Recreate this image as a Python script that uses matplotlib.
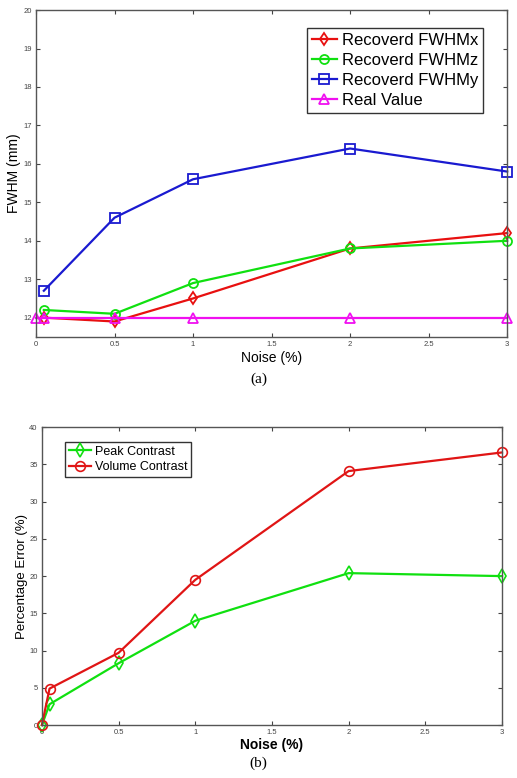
import matplotlib
matplotlib.use("Agg")
import matplotlib.pyplot as plt

plt.rcParams['font.family'] = ['Liberation Sans', 'DejaVu Sans']

# (a) FWHM vs noise
noise = [0.05, 0.5, 1, 2, 3]
fwhm_x = [12.0, 11.9, 12.5, 13.8, 14.2]
fwhm_z = [12.2, 12.1, 12.9, 13.8, 14.0]
fwhm_y = [12.7, 14.6, 15.6, 16.4, 15.8]
noise_real = [0, 0.05, 0.5, 1, 2, 3]
real_val = [12, 12, 12, 12, 12, 12]

# (b) percentage error vs noise
noise_b = [0, 0.05, 0.5, 1, 2, 3]
peak_contrast = [0, 2.8, 8.3, 14.0, 20.4, 20.0]
volume_contrast = [0, 4.9, 9.7, 19.5, 34.1, 36.6]

fig = plt.figure(figsize=(5.17, 7.78), dpi=100)
ax1 = fig.add_axes([0.0696, 0.567, 0.9114, 0.420])
ax2 = fig.add_axes([0.081, 0.068, 0.890, 0.383])

mk = dict(markerfacecolor='none', markersize=6.5, markeredgewidth=1.3, linewidth=1.6)
ax1.plot(noise, fwhm_x, '-d', color='#e81010', label='Recoverd FWHMx', **mk)
ax1.plot(noise, fwhm_z, '-o', color='#10e010', label='Recoverd FWHMz', **mk)
ax1.plot(noise, fwhm_y, '-s', color='#1a1ad0', label='Recoverd FWHMy', **mk)
ax1.plot(noise_real, real_val, '-^', color='#f010f0', label='Real Value', **mk)
ax1.set_xlim(0, 3)
ax1.set_ylim(11.5, 20)
ax1.set_xticks([0, 0.5, 1, 1.5, 2, 2.5, 3])
ax1.set_xticklabels(['0', '0.5', '1', '1.5', '2', '2.5', '3'])
ax1.set_yticks(range(12, 21))
ax1.set_xlabel('Noise (%)', fontsize=10, labelpad=2)
ax1.set_ylabel('FWHM (mm)', fontsize=10, labelpad=2)
leg1 = ax1.legend(loc='upper right', bbox_to_anchor=(0.949, 0.945), borderaxespad=0,
                  fontsize=12, handlelength=1.5, handletextpad=0.3, borderpad=0.3,
                  labelspacing=0.3, fancybox=False, framealpha=1)
leg1.get_frame().set_edgecolor('#333333')
fig.text(0.5, 0.512, '(a)', ha='center', va='center', fontsize=11,
         family=['Liberation Serif', 'DejaVu Serif'])

mk2 = dict(markerfacecolor='none', markersize=7, markeredgewidth=1.2, linewidth=1.6)
ax2.plot(noise_b, peak_contrast, '-d', color='#10e010', label='Peak Contrast', **mk2)
ax2.plot(noise_b, volume_contrast, '-o', color='#e01515', label='Volume Contrast', **mk2)
ax2.set_xlim(0, 3)
ax2.set_ylim(0, 40)
ax2.set_xticks([0, 0.5, 1, 1.5, 2, 2.5, 3])
ax2.set_xticklabels(['0', '0.5', '1', '1.5', '2', '2.5', '3'])
ax2.set_yticks(range(0, 41, 5))
ax2.set_xlabel('Noise (%)', fontsize=10, labelpad=1, fontweight='bold')
ax2.set_ylabel('Percentage Error (%)', fontsize=9.5, labelpad=1)
leg2 = ax2.legend(loc='upper left', bbox_to_anchor=(0.05, 0.95), borderaxespad=0,
                  fontsize=9, handlelength=1.8, handletextpad=0.3, borderpad=0.3,
                  labelspacing=0.25, fancybox=False, framealpha=1)
leg2.get_frame().set_edgecolor('#333333')
fig.text(0.5, 0.019, '(b)', ha='center', va='center', fontsize=11,
         family=['Liberation Serif', 'DejaVu Serif'])

for ax in (ax1, ax2):
    ax.tick_params(direction='in', top=True, right=True, labelsize=5.5,
                   length=3, colors='#444444', pad=3)
    for s in ax.spines.values():
        s.set_color('#555555')
        s.set_linewidth(1.0)
    for m in ax.lines:
        m.set_clip_on(False)

fig.savefig('out.png', dpi=100)
